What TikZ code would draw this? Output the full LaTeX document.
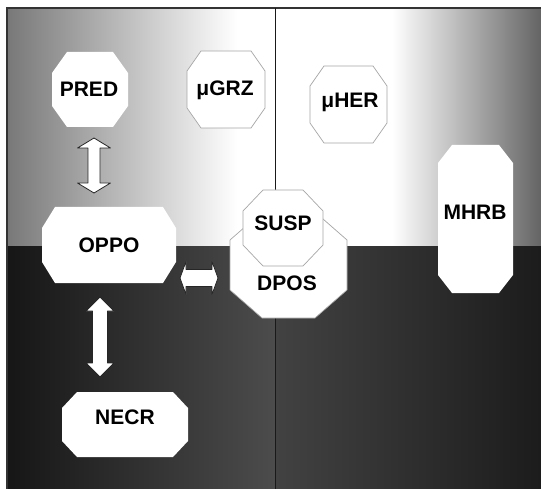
\documentclass[tikz,border=0pt]{standalone}
\usepackage{fontspec}
\setmainfont{Liberation Sans}
\usetikzlibrary{calc}
\pgfdeclarelayer{back}
\pgfdeclarelayer{shapes}
\pgfsetlayers{back,shapes,main}
\definecolor{tlA}{HTML}{787878}
\definecolor{trB}{HTML}{646464}
\definecolor{blA}{HTML}{161616}
\definecolor{blB}{HTML}{4C4C4C}
\definecolor{brA}{HTML}{424242}
\definecolor{brB}{HTML}{1C1C1C}
\pgfdeclarehorizontalshading{tlshade}{100bp}{color(0bp)=(tlA); color(25bp)=(tlA); color(68bp)=(white); color(100bp)=(white)}
\pgfdeclarehorizontalshading{trshade}{100bp}{color(0bp)=(white); color(47bp)=(white); color(75bp)=(trB); color(100bp)=(trB)}
\pgfdeclarehorizontalshading{blshade}{100bp}{color(0bp)=(blA); color(25bp)=(blA); color(75bp)=(blB); color(100bp)=(blB)}
\pgfdeclarehorizontalshading{brshade}{100bp}{color(0bp)=(brA); color(25bp)=(brA); color(75bp)=(brB); color(100bp)=(brB)}
\tikzset{
  box/.style={inner sep=0pt, outer sep=0pt},
  octfill/.style={fill=white},
  octline/.style={fill=white, draw=black!35, line width=0.7pt},
  lbl/.style={font=\fontsize{21}{25}\selectfont\bfseries, inner sep=0pt, text height=15pt, text depth=0pt, text=black},
  blockarrow/.style={fill=white, draw=black!85, line width=0.8pt, line join=round},
  frameline/.style={draw=black!80, line width=1.5pt},
  divider/.style={draw=black!90, line width=1pt}
}
% name, cx, cy, w, h, dx, dy, style
\newcommand{\octnode}[8]{%
  \node[box, minimum width=#4pt, minimum height=#5pt] (#1) at (#2,#3) {};
  \begin{pgfonlayer}{shapes}
  \path[#8] ([xshift=#6pt]#1.north west) -- ([xshift=-#6pt]#1.north east)
     -- ([yshift=-#7pt]#1.north east) -- ([yshift=#7pt]#1.south east)
     -- ([xshift=-#6pt]#1.south east) -- ([xshift=#6pt]#1.south west)
     -- ([yshift=#7pt]#1.south west) -- ([yshift=-#7pt]#1.north west) -- cycle;
  \end{pgfonlayer}}
% top tip, length, shaft half, head half, head length
\newcommand{\vdarrow}[5]{%
  \path[blockarrow] (#1) -- ++(#4,#5) -- ++(-#4+#3,0) -- ++(0,#2-2*#5) -- ++(#4-#3,0)
    -- ++(-#4,#5) -- ++(-#4,-#5) -- ++(#4-#3,0) -- ++(0,-#2+2*#5) -- ++(-#4+#3,0) -- cycle;}
% left tip, length, shaft half, head half, head length
\newcommand{\hdarrow}[5]{%
  \path[blockarrow] (#1) -- ++(#5,-#4) -- ++(0,#4-#3) -- ++(#2-2*#5,0) -- ++(0,-#4+#3)
    -- ++(#5,#4) -- ++(-#5,#4) -- ++(0,-#4+#3) -- ++(-#2+2*#5,0) -- ++(0,#4-#3) -- cycle;}
\begin{document}
\begin{tikzpicture}[x=1pt,y=-1pt]
\useasboundingbox (0,0) rectangle (541,489);
\begin{pgfonlayer}{back}
  \fill[white] (0,0) rectangle (541,489);
  \path[shading=tlshade] (7,8) rectangle (275,247);
  \path[shading=trshade] (275,8) rectangle (541,247);
  \path[shading=blshade] (7,247) rectangle (275,489);
  \path[shading=brshade] (275,247) rectangle (541,489);
  \draw[frameline] (7,489) -- (7,8) -- (541,8);
  \draw[divider] (275,8) -- (275,489);
\end{pgfonlayer}

\octnode{pred}{90}{89.5}{76}{75}{15}{21}{octfill}
\octnode{grz}{226}{89.5}{78}{77}{14}{20}{octline}
\octnode{her}{348.5}{104.5}{77}{77}{14}{20}{octline}
\octnode{mhrb}{475.5}{219}{75}{148}{14}{18}{octfill}
\octnode{oppo}{109}{245}{134}{76}{13}{21}{octfill}
\octnode{necr}{125}{424.5}{126}{65}{15}{16}{octfill}
\octnode{dpos}{288.5}{265}{117}{106}{32}{28}{octline}
\octnode{susp}{283}{228}{80}{76}{20}{21}{octline}

\node[lbl] (pred-t) at (89,89) {PRED};
\node[lbl] (grz-t) at (225,88) {μGRZ};
\node[lbl] (her-t) at (350,100) {μHER};
\node[lbl] (mhrb-t) at (475,212) {MHRB};
\node[lbl] (oppo-t) at (109,245) {OPPO};
\node[lbl] (necr-t) at (125,417) {NECR};
\node[lbl] (susp-t) at (283,223) {SUSP};
\node[lbl] (dpos-t) at (287,283) {DPOS};

\coordinate (a1) at ($(pred.south)+(4,11)$);
\coordinate (a2) at ($(oppo.south)+(-9,14)$);
\coordinate (a3) at ($(oppo.south east)+(4,-5)$);
\vdarrow{a1}{55}{6}{16.5}{10}
\vdarrow{a2}{80}{7.5}{14}{14}
\hdarrow{a3}{38}{8.5}{16.5}{6}
\end{tikzpicture}
\end{document}
